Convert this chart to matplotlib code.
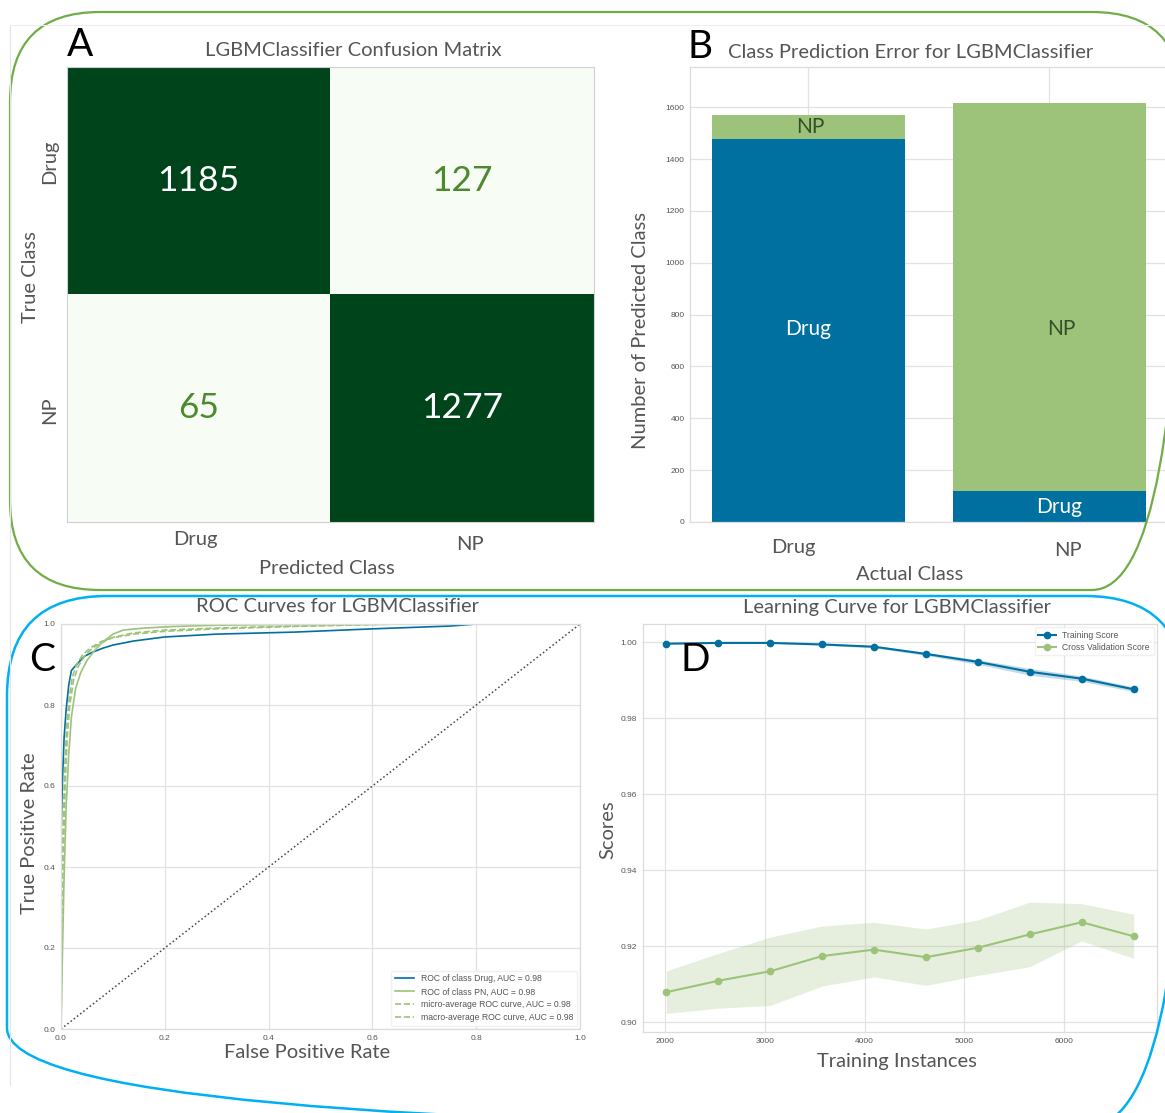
import matplotlib.pyplot as plt
from matplotlib.patches import FancyBboxPatch
from matplotlib.ticker import FormatStrFormatter

# ---- confusion matrix (rows = true class, cols = predicted class)
classes = ["Drug", "NP"]
conf_matrix = [[1185, 127],
               [65, 1277]]

# ---- class prediction error (stacked counts per actual class)
actual_classes = ["Drug", "NP"]
pred_drug = [1478, 118]
pred_np = [92, 1499]

# ---- ROC curves
drug_fpr = [0, 0, 0.003, 0.006, 0.01, 0.015, 0.02, 0.03, 0.045, 0.06, 0.08, 0.1, 0.14,
            0.2, 0.3, 0.45, 0.6, 0.75, 0.8, 1.0]
drug_tpr = [0, 0.48, 0.62, 0.72, 0.79, 0.85, 0.885, 0.9, 0.92, 0.93, 0.94, 0.948, 0.958,
            0.968, 0.975, 0.98, 0.988, 0.995, 1.0, 1.0]
pn_fpr = [0, 0.003, 0.006, 0.01, 0.015, 0.02, 0.028, 0.038, 0.05, 0.065, 0.08, 0.1, 0.12,
          0.16, 0.22, 0.3, 0.45, 0.6, 1.0]
pn_tpr = [0, 0.2, 0.38, 0.55, 0.68, 0.77, 0.84, 0.88, 0.91, 0.935, 0.955, 0.975, 0.985,
          0.99, 0.994, 0.997, 0.999, 1.0, 1.0]
micro_fpr = [0, 0.001, 0.004, 0.007, 0.011, 0.016, 0.022, 0.03, 0.042, 0.058, 0.078, 0.1,
             0.14, 0.2, 0.3, 0.45, 0.65, 1.0]
micro_tpr = [0, 0.35, 0.5, 0.64, 0.75, 0.82, 0.87, 0.9, 0.925, 0.942, 0.957, 0.966,
             0.975, 0.982, 0.988, 0.994, 1.0, 1.0]
macro_fpr = [0, 0.002, 0.005, 0.008, 0.012, 0.017, 0.024, 0.033, 0.045, 0.06, 0.08, 0.1,
             0.14, 0.2, 0.3, 0.45, 0.65, 1.0]
macro_tpr = [0, 0.3, 0.45, 0.6, 0.72, 0.8, 0.86, 0.895, 0.92, 0.94, 0.955, 0.967,
             0.978, 0.985, 0.99, 0.995, 1.0, 1.0]
roc_auc = {"Drug": 0.98, "PN": 0.98, "micro": 0.98, "macro": 0.98}

# ---- learning curve
train_sizes = [2010, 2531, 3052, 3573, 4094, 4616, 5137, 5658, 6179, 6700]
train_mean = [0.9996, 0.9998, 0.9998, 0.9994, 0.9988, 0.9969, 0.9948, 0.9922, 0.9904, 0.9876]
train_std = [0.0001, 0.0001, 0.0001, 0.0002, 0.0003, 0.0004, 0.0006, 0.0009, 0.0007, 0.0006]
cv_mean = [0.9079, 0.9109, 0.9134, 0.9174, 0.9191, 0.9171, 0.9196, 0.9231, 0.9263, 0.9226]
cv_std = [0.0056, 0.0072, 0.0090, 0.0079, 0.0072, 0.0074, 0.0073, 0.0085, 0.0049, 0.0058]

BLUE = "#0070a0"
GREEN = "#9dc37a"
TEXT = "#555555"
GRID = "#e2e2e2"
SANS = ["Lato", "DejaVu Sans"]
SMALL = ["Liberation Sans", "DejaVu Sans"]
BIG = 14.5

W, H = 1165, 1113
fig = plt.figure(figsize=(W / 100, H / 100), dpi=100)


def px_axes(left, top, right, bottom):
    return fig.add_axes([left / W, 1 - bottom / H, (right - left) / W, (bottom - top) / H])


def ptext(x, y, s, size=BIG, color=TEXT, **kw):
    kw.setdefault("ha", "center")
    kw.setdefault("va", "center")
    fig.text(x / W, 1 - y / H, s, fontsize=size, color=color, family=SANS, **kw)


def style_axes(ax):
    ax.set_facecolor("white")
    ax.grid(True, color=GRID, linewidth=0.9)
    ax.set_axisbelow(True)
    for sp in ax.spines.values():
        sp.set_color("#dcdcdc")
        sp.set_linewidth(0.9)
    ax.tick_params(length=0, labelsize=6, labelcolor=TEXT, pad=4)
    for lab in ax.get_xticklabels() + ax.get_yticklabels():
        lab.set_family(SMALL)


# ---------------- A: confusion matrix
axA = px_axes(67, 67, 594, 522)
axA.imshow(conf_matrix, cmap="Greens", vmin=127, vmax=1185, aspect="auto")
for i in range(2):
    for j in range(2):
        v = conf_matrix[i][j]
        axA.text(j, i, str(v), ha="center", va="center", fontsize=25.5, family=SANS,
                 color="white" if v > 600 else "#4d8a2e")
axA.set_xticks([])
axA.set_yticks([])
for sp in axA.spines.values():
    sp.set_color("#d0d0d0")
ptext(50, 162, classes[0], rotation=90)
ptext(50, 410, classes[1], rotation=90)
ptext(30, 277, "True Class", rotation=90)
ptext(195, 540, classes[0])
ptext(470, 545, classes[1])
ptext(327, 568, "Predicted Class")
ptext(353, 50, "LGBMClassifier Confusion Matrix")
ptext(80, 45, "A", size=28, color="black")

# ---------------- B: class prediction error
axB = px_axes(690, 67, 1165, 522)
xs = [0, 1]
axB.bar(xs, pred_drug, width=0.8, color=BLUE)
axB.bar(xs, pred_np, width=0.8, bottom=pred_drug, color=GREEN)
axB.set_xlim(-0.49, 1.48)
axB.set_ylim(0, 1755)
axB.set_xticks(xs)
axB.set_xticklabels([])
axB.set_yticks(range(0, 1601, 200))
style_axes(axB)
axB.spines["right"].set_visible(False)
axB.text(0, 745, "Drug", ha="center", va="center", fontsize=15, color="white", family=SANS)
axB.text(0.01, pred_drug[0] + pred_np[0] / 2, "NP", ha="center", va="center",
         fontsize=15, color="#33502a", family=SANS)
axB.text(1.05, 745, "NP", ha="center", va="center", fontsize=15, color="#33502a", family=SANS)
axB.text(1.04, pred_drug[1] / 2, "Drug", ha="center", va="center", fontsize=15,
         color="white", family=SANS)
ptext(793, 547, actual_classes[0])
ptext(1068, 550, actual_classes[1])
ptext(641, 330, "Number of Predicted Class", rotation=90)
ptext(910, 574, "Actual Class")
ptext(911, 52, "Class Prediction Error for LGBMClassifier")
ptext(700, 47, "B", size=28, color="black")

# ---------------- C: ROC curves
axC = px_axes(61, 624, 580, 1029)
axC.plot(drug_fpr, drug_tpr, color=BLUE, lw=1.2,
         label="ROC of class Drug, AUC = {:0.2f}".format(roc_auc["Drug"]))
axC.plot(pn_fpr, pn_tpr, color=GREEN, lw=1.2,
         label="ROC of class PN, AUC = {:0.2f}".format(roc_auc["PN"]))
axC.plot(micro_fpr, micro_tpr, color=GREEN, lw=1.2, ls="--",
         label="micro-average ROC curve, AUC = {:0.2f}".format(roc_auc["micro"]))
axC.plot(macro_fpr, macro_tpr, color=GREEN, lw=1.2, ls="--",
         label="macro-average ROC curve, AUC = {:0.2f}".format(roc_auc["macro"]))
axC.plot([0, 1], [0, 1], color="#444444", ls=":", lw=1.1)
axC.set_xlim(0, 1)
axC.set_ylim(0, 1)
axC.set_xticks([0, 0.2, 0.4, 0.6, 0.8, 1.0])
axC.set_yticks([0, 0.2, 0.4, 0.6, 0.8, 1.0])
axC.xaxis.set_major_formatter(FormatStrFormatter("%.1f"))
axC.yaxis.set_major_formatter(FormatStrFormatter("%.1f"))
style_axes(axC)
legC = axC.legend(loc="lower right", frameon=True, borderaxespad=0.4,
                  handlelength=2.2, labelspacing=0.45, prop={"family": SMALL, "size": 6.2})
legC.get_frame().set_edgecolor("#eeeeee")
for t in legC.get_texts():
    t.set_color(TEXT)
ptext(30, 833, "True Positive Rate", rotation=90)
ptext(307, 1053, "False Positive Rate")
ptext(338, 607, "ROC Curves for LGBMClassifier")
ptext(42, 660, "C", size=28, color="black")

# ---------------- D: learning curve
axD = px_axes(643, 624, 1157, 1032)
tr_lo = [m - s for m, s in zip(train_mean, train_std)]
tr_hi = [m + s for m, s in zip(train_mean, train_std)]
cv_lo = [m - s for m, s in zip(cv_mean, cv_std)]
cv_hi = [m + s for m, s in zip(cv_mean, cv_std)]
axD.fill_between(train_sizes, tr_lo, tr_hi, color=BLUE, alpha=0.25, lw=0)
axD.fill_between(train_sizes, cv_lo, cv_hi, color=GREEN, alpha=0.25, lw=0)
axD.plot(train_sizes, train_mean, "o-", color=BLUE, lw=1.5, ms=4.5, label="Training Score")
axD.plot(train_sizes, cv_mean, "o-", color=GREEN, lw=1.5, ms=4.5,
         label="Cross Validation Score")
axD.set_yticks([0.90, 0.92, 0.94, 0.96, 0.98, 1.00])
axD.yaxis.set_major_formatter(FormatStrFormatter("%.2f"))
axD.set_xticks([2000, 3000, 4000, 5000, 6000])
style_axes(axD)
legD = axD.legend(loc="upper right", prop={"family": SMALL, "size": 6.2}, frameon=True,
                  borderaxespad=0.4, labelspacing=0.35)
legD.get_frame().set_edgecolor("#eeeeee")
for t in legD.get_texts():
    t.set_color(TEXT)
ptext(608, 830, "Scores", rotation=90)
ptext(897, 1062, "Training Instances")
ptext(897, 607, "Learning Curve for LGBMClassifier")
ptext(695, 660, "D", size=28, color="black")

# ---------------- rounded frames around the two rows
over = fig.add_axes([0, 0, 1, 1], zorder=10)
over.set_xlim(0, W)
over.set_ylim(H, 0)
over.axis("off")
over.patch.set_alpha(0)
over.plot([10, 10], [25, 1085], color="#e4e4e4", lw=0.8)
over.plot([10, 1165], [25, 25], color="#eeeeee", lw=0.8)
over.add_patch(FancyBboxPatch((10, 12), 1172, 578,
                              boxstyle="round,pad=0,rounding_size=90",
                              fill=False, edgecolor="#70ad47", lw=1.6))
over.add_patch(FancyBboxPatch((7, 596), 1178, 532,
                              boxstyle="round,pad=0,rounding_size=100",
                              fill=False, edgecolor="#00b0f0", lw=1.8))

fig.savefig("out.png", dpi=100, facecolor="white")
